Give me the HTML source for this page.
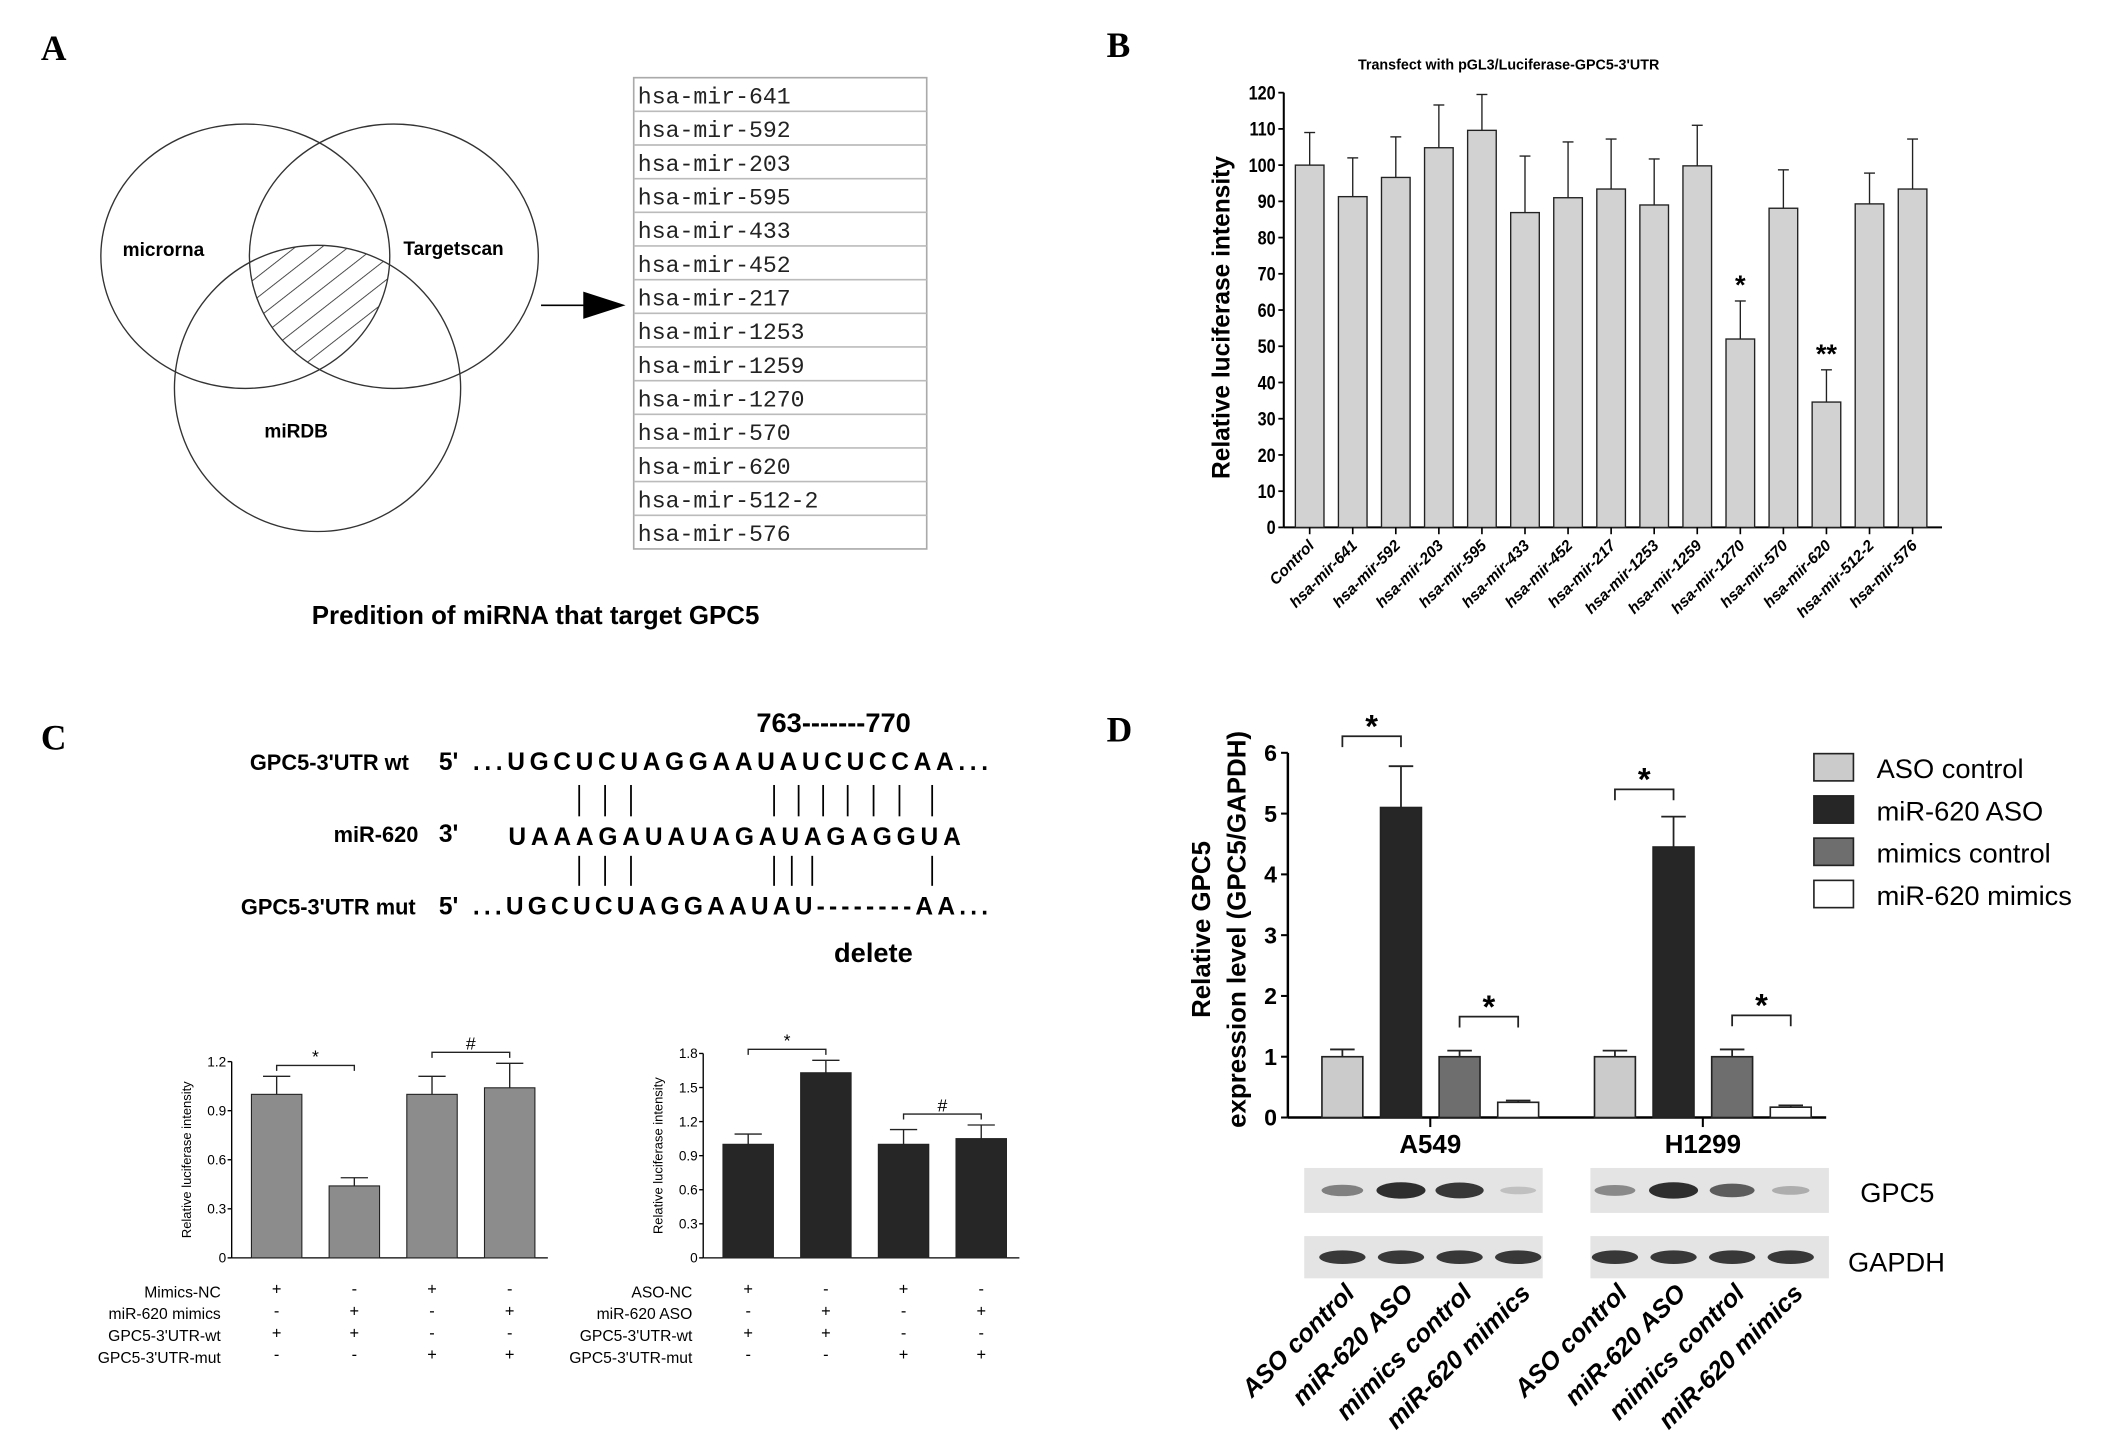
<!DOCTYPE html>
<html><head><meta charset="utf-8">
<style>
html,body{margin:0;padding:0;background:#fff;}
svg{display:block;}
text{font-family:"Liberation Sans",Arial,sans-serif;}
.serif{font-family:"Liberation Serif",serif;font-weight:bold;}
.mono{font-family:"Liberation Mono",monospace;}
</style></head>
<body>
<svg id="fig" width="2126" height="1433" viewBox="0 0 1560 1051.5" xmlns="http://www.w3.org/2000/svg">
<defs>
  <clipPath id="c1"><ellipse cx="180" cy="188" rx="106" ry="97"/></clipPath>
  <clipPath id="c2"><ellipse cx="289" cy="188" rx="106" ry="97"/></clipPath>
  <pattern id="hatch" width="12" height="12" patternUnits="userSpaceOnUse" patternTransform="rotate(-38)">
    <line x1="0" y1="0" x2="12" y2="0" stroke="#333" stroke-width="1.2"/>
  </pattern>
</defs>

<!-- Panel A -->
<g>
  <text class="serif" x="30" y="44" font-size="26">A</text>
  <g clip-path="url(#c1)"><g clip-path="url(#c2)">
    <ellipse cx="233" cy="285" rx="105" ry="105" fill="url(#hatch)"/>
  </g></g>
  <ellipse cx="180" cy="188" rx="106" ry="97" fill="none" stroke="#333" stroke-width="1"/>
  <ellipse cx="289" cy="188" rx="106" ry="97" fill="none" stroke="#333" stroke-width="1"/>
  <ellipse cx="233" cy="285" rx="105" ry="105" fill="none" stroke="#333" stroke-width="1"/>
  <text x="90" y="188" font-size="14" font-weight="bold">microrna</text>
  <text x="296" y="187" font-size="14" font-weight="bold">Targetscan</text>
  <text x="194" y="321" font-size="14" font-weight="bold">miRDB</text>
  <line x1="397" y1="224" x2="430" y2="224" stroke="#000" stroke-width="1.2"/>
  <polygon points="428,214 459,224 428,234" fill="#000"/>
  <g id="mirtable"></g>
  <text x="393" y="458" font-size="19" font-weight="bold" text-anchor="middle">Predition of miRNA that target GPC5</text>
</g>

<!-- Panel B -->
<g id="panelB">
  <text class="serif" x="812" y="42" font-size="26">B</text>
  <text x="1107" y="51" font-size="10.5" font-weight="bold" text-anchor="middle">Transfect with pGL3/Luciferase-GPC5-3'UTR</text>
  <text transform="translate(902,233) rotate(-90)" font-size="18" font-weight="bold" text-anchor="middle">Relative luciferase intensity</text>
</g>

<!-- Panel C -->
<g id="panelC">
  <text class="serif" x="30" y="550" font-size="26">C</text>
  <g font-weight="bold" font-size="18">
    <text x="555" y="537" font-size="20">763-------770</text>
    <text x="300" y="565" text-anchor="end" font-size="16">GPC5-3'UTR wt</text>
    <text x="322" y="565">5'</text>
    <text x="347" y="565" textLength="378">...UGCUCUAGGAAUAUCUCCAA...</text>
    <text x="307" y="618" text-anchor="end" font-size="16">miR-620</text>
    <text x="322" y="618">3'</text>
    <text x="373" y="620" textLength="332">UAAAGAUAUAGAUAGAGGUA</text>
    <text x="305" y="671" text-anchor="end" font-size="16">GPC5-3'UTR mut</text>
    <text x="322" y="671">5'</text>
    <text x="347" y="671" textLength="378">...UGCUCUAGGAAUAU--------AA...</text>
    <text x="612" y="706" font-size="20">delete</text>
  </g>
  <g id="pairlines" stroke="#000" stroke-width="1.3"></g>
</g>

<!-- Panel D -->
<g id="panelD">
  <text class="serif" x="812" y="544" font-size="26">D</text>
  <text transform="translate(888,682) rotate(-90)" font-size="19" font-weight="bold" text-anchor="middle">Relative GPC5</text>
  <text transform="translate(914,682) rotate(-90)" font-size="19" font-weight="bold" text-anchor="middle">expression level (GPC5/GAPDH)</text>
</g>

<script>
const NS='http://www.w3.org/2000/svg';
function mk(tag,attrs,parent,txt){const e=document.createElementNS(NS,tag);for(const k in attrs)e.setAttribute(k,attrs[k]);if(txt!==undefined)e.textContent=txt;parent.appendChild(e);return e;}

// ---- Panel A table ----
const mirList=['hsa-mir-641','hsa-mir-592','hsa-mir-203','hsa-mir-595','hsa-mir-433','hsa-mir-452','hsa-mir-217','hsa-mir-1253','hsa-mir-1259','hsa-mir-1270','hsa-mir-570','hsa-mir-620','hsa-mir-512-2','hsa-mir-576'];
(function(){
  const g=document.getElementById('mirtable');
  const x0=465,y0=57,w=215,rh=24.7;
  const box=mk('rect',{x:x0,y:y0,width:w,height:rh*mirList.length,fill:'#fff',stroke:'#aaa','stroke-width':1.2},g);
  
  
  mirList.forEach((m,i)=>{
    if(i>0){const l=mk('line',{x1:x0,x2:x0+w,y1:y0+i*rh,y2:y0+i*rh,stroke:'#bbb','stroke-width':1.2},g);
      
      }
    const t=mk('text',{x:x0+3,y:y0+i*rh+19,'font-size':17,'class':'mono',fill:'#222'},g,m);
    
    
  });
})();

// ---- Panel B ----
const bCategories=['Control','hsa-mir-641','hsa-mir-592','hsa-mir-203','hsa-mir-595','hsa-mir-433','hsa-mir-452','hsa-mir-217','hsa-mir-1253','hsa-mir-1259','hsa-mir-1270','hsa-mir-570','hsa-mir-620','hsa-mir-512-2','hsa-mir-576'];
const bValues=[100,91.3,96.6,104.8,109.6,86.9,91,93.4,89,99.8,52,88.1,34.6,89.3,93.4];
const bErrTops=[109,102,107.8,116.6,119.5,102.5,106.4,107.2,101.7,111,62.5,98.7,43.5,97.8,107.2];
const bTicks=[0,10,20,30,40,50,60,70,80,90,100,110,120];
const bStars=['','','','','','','','','','','*','','**','',''];
(function(){
  const g=document.getElementById('panelB');
  const y=v=>387-(v/120)*319;
  const x=i=>961+i*31.6;
  const bw=21;
  const ax=mk('line',{x1:942,x2:942,y1:y(120),y2:y(0),stroke:'#000','stroke-width':1.5},g);
  
  
  const xa=mk('line',{x1:942,x2:1425,y1:y(0),y2:y(0),stroke:'#000','stroke-width':1.5},g);
  
  
  bTicks.forEach(t=>{
    const tl=mk('line',{x1:938,x2:942,y1:y(t),y2:y(t),stroke:'#000','stroke-width':1.3},g);
    
    
    const tt=mk('text',{x:936,y:y(t)+5,'font-size':14,'font-weight':'bold','text-anchor':'end',transform:`translate(936,0) scale(0.85,1) translate(-936,0)`},g,String(t));
    
    
  });
  bCategories.forEach((c,i)=>{
    const cx=x(i);
    const el=mk('line',{x1:cx,x2:cx,y1:y(bErrTops[i]),y2:y(bValues[i]),stroke:'#222','stroke-width':1},g);
    
    
    const ec=mk('line',{x1:cx-4,x2:cx+4,y1:y(bErrTops[i]),y2:y(bErrTops[i]),stroke:'#222','stroke-width':1},g);
    
    
    const r=mk('rect',{x:cx-bw/2,y:y(bValues[i]),width:bw,height:y(0)-y(bValues[i]),fill:'#d2d2d2',stroke:'#222','stroke-width':1},g);
    
    
    const tk=mk('line',{x1:cx,x2:cx,y1:y(0),y2:y(0)+5,stroke:'#000','stroke-width':1.2},g);
    
    
    const lb=mk('text',{x:cx+4,y:y(0)+14,'font-size':11.5,'font-weight':'bold','font-style':'italic','text-anchor':'end',transform:`rotate(-45 ${cx+4} ${y(0)+14})`},g,c);
    
    
    if(bStars[i]){
      const s=mk('text',{x:cx,y:y(bErrTops[i])-5,'font-size':20,'font-weight':'bold','text-anchor':'middle'},g,bStars[i]);
      
      
    }
  });
})();

// ---- Panel C pairing lines ----
const pairTopX=[425,444,463,568,586,604,622,641,660,684];
const pairBotX=[425,444,463,568,581,596,684];
(function(){
  const g=document.getElementById('pairlines');
  pairTopX.forEach(px=>{const l=mk('line',{x1:px,x2:px,y1:576,y2:599},g);
    
    });
  pairBotX.forEach(px=>{const l=mk('line',{x1:px,x2:px,y1:628,y2:650},g);
    
    });
})();

// ---- Panel C small charts ----
const c1Values=[1,0.44,1,1.04];
const c1ErrTops=[1.11,0.49,1.11,1.19];
const c1Ticks=[0,0.3,0.6,0.9,1.2];
const c2Values=[1,1.63,1,1.05];
const c2ErrTops=[1.09,1.74,1.13,1.17];
const c2Ticks=[0,0.3,0.6,0.9,1.2,1.5,1.8];
const c1RowLabels=['Mimics-NC','miR-620 mimics',"GPC5-3'UTR-wt","GPC5-3'UTR-mut"];
const c2RowLabels=['ASO-NC','miR-620 ASO',"GPC5-3'UTR-wt","GPC5-3'UTR-mut"];
const c1Signs=[['+','-','+','-'],['-','+','-','+'],['+','+','-','-'],['-','-','+','+']];
const c2Signs=[['+','-','+','-'],['-','+','-','+'],['+','+','-','-'],['-','-','+','+']];
function smallChart(name,ax0,yMax,vals,errs,ticks,fill,rowLabels,signs,brackets){
  const g=document.getElementById('panelC');
  const y=v=>923-(v/yMax)*(yMax===1.2?144:150);
  const x=i=>ax0+33+i*57;
  const bw=37;
  const a=mk('line',{x1:ax0,x2:ax0,y1:y(yMax),y2:y(0),stroke:'#000','stroke-width':1},g);
  
  
  const b=mk('line',{x1:ax0,x2:ax0+232,y1:y(0),y2:y(0),stroke:'#000','stroke-width':1},g);
  
  
  ticks.forEach(t=>{
    const tl=mk('line',{x1:ax0-3,x2:ax0,y1:y(t),y2:y(t),stroke:'#000'},g);
    
    
    const tt=mk('text',{x:ax0-4,y:y(t)+3.5,'font-size':10,'text-anchor':'end'},g,String(t));
    
    
  });
  const yl=mk('text',{transform:`translate(${ax0-30},${y(yMax/2)}) rotate(-90)`,'font-size':9.5,'text-anchor':'middle'},g,'Relative luciferase intensity');
  
  
  vals.forEach((v,i)=>{
    const cx=x(i);
    const el=mk('line',{x1:cx,x2:cx,y1:y(errs[i]),y2:y(v),stroke:'#222'},g);
    
    
    const ec=mk('line',{x1:cx-10,x2:cx+10,y1:y(errs[i]),y2:y(errs[i]),stroke:'#222'},g);
    
    
    const r=mk('rect',{x:cx-bw/2,y:y(v),width:bw,height:y(0)-y(v),fill:fill,stroke:'#222','stroke-width':0.8},g);
    
    
    signs.forEach((row,ri)=>{
      const s=mk('text',{x:cx,y:950+ri*16,'font-size':12,'text-anchor':'middle'},g,row[i]);
      
      
    });
  });
  rowLabels.forEach((l,ri)=>{
    const t=mk('text',{x:ax0-8,y:952+ri*16,'font-size':11.5,'text-anchor':'end'},g,l);
    
    
  });
  brackets.forEach(bk=>{
    const [i1,i2,sym]=bk;
    const top=Math.max(errs[i1],errs[i2]);
    const by=y(top)-8;
    const p=mk('path',{d:`M${x(i1)} ${by+4}V${by}H${x(i2)}V${by+4}`,fill:'none',stroke:'#222'},g);
    
    
    const s=mk('text',{x:(x(i1)+x(i2))/2,y:by-2,'font-size':13,'text-anchor':'middle'},g,sym);
    
    
  });
}
smallChart('mimics-chart',170,1.2,c1Values,c1ErrTops,c1Ticks,'#8c8c8c',c1RowLabels,c1Signs,[[0,1,'*'],[2,3,'#']]);
smallChart('aso-chart',516,1.8,c2Values,c2ErrTops,c2Ticks,'#262626',c2RowLabels,c2Signs,[[0,1,'*'],[2,3,'#']]);

// ---- Panel D ----
const dGroups=['A549','H1299'];
const dSeries=['ASO control','miR-620 ASO','mimics control','miR-620 mimics'];
const dFills=['#cbcbcb','#262626','#6e6e6e','#ffffff'];
const dValues=[[1,5.1,1,0.25],[1,4.45,1,0.17]];
const dErrTops=[[1.12,5.78,1.1,0.28],[1.1,4.95,1.12,0.2]];
const dTicks=[0,1,2,3,4,5,6];
const gpc5Band=[[0.55,1,0.95,0.2],[0.5,1,0.75,0.3]];
(function(){
  const g=document.getElementById('panelD');
  const y=v=>820-v*44.6;
  const gx=[985,1185];
  const x=(gi,si)=>gx[gi]+si*43;
  const bw=30;
  const a=mk('line',{x1:945,x2:945,y1:y(6),y2:y(0),stroke:'#000','stroke-width':1.8},g);
  
  
  const b=mk('line',{x1:945,x2:1340,y1:y(0),y2:y(0),stroke:'#000','stroke-width':1.8},g);
  
  
  dTicks.forEach(t=>{
    const tl=mk('line',{x1:940,x2:945,y1:y(t),y2:y(t),stroke:'#000','stroke-width':1.5},g);
    
    
    const tt=mk('text',{x:937,y:y(t)+6,'font-size':17,'font-weight':'bold','text-anchor':'end'},g,String(t));
    
    
  });
  dGroups.forEach((grp,gi)=>{
    const mid=(x(gi,0)+x(gi,3))/2;
    const tk=mk('line',{x1:mid,x2:mid,y1:y(0),y2:y(0)+7,stroke:'#000','stroke-width':1.5},g);
    
    
    const gl=mk('text',{x:mid,y:846,'font-size':19,'font-weight':'bold','text-anchor':'middle'},g,grp);
    
    
    dSeries.forEach((s,si)=>{
      const cx=x(gi,si), v=dValues[gi][si], e=dErrTops[gi][si];
      const el=mk('line',{x1:cx,x2:cx,y1:y(e),y2:y(v),stroke:'#222','stroke-width':1.3},g);
      
      
      const ec=mk('line',{x1:cx-9,x2:cx+9,y1:y(e),y2:y(e),stroke:'#222','stroke-width':1.3},g);
      
      
      const r=mk('rect',{x:cx-bw/2,y:y(v),width:bw,height:y(0)-y(v),fill:dFills[si],stroke:'#222','stroke-width':1.2},g);
      
      
    });
    [[0,1],[2,3]].forEach(pr=>{
      const top=Math.max(dErrTops[gi][pr[0]],dErrTops[gi][pr[1]]);
      const by=y(top)-(pr[0]===0?(gi===0?22:20):25);
      const p=mk('path',{d:`M${x(gi,pr[0])} ${by+8}V${by}H${x(gi,pr[1])}V${by+8}`,fill:'none',stroke:'#222','stroke-width':1.3},g);
      
      
      const st=mk('text',{x:(x(gi,pr[0])+x(gi,pr[1]))/2,y:by+1,'font-size':24,'font-weight':'bold','text-anchor':'middle'},g,'*');
      
      
    });
    const bx=gi===0?957:1167;
    [[857,890,'gpc5'],[907,938,'gapdh']].forEach((row,ri)=>{
      const br=mk('rect',{x:bx,y:row[0],width:175,height:row[1]-row[0],fill:'#e4e4e4'},g);
      
      
      dSeries.forEach((s,si)=>{
        const cx=x(gi,si);
        const val=ri===0?gpc5Band[gi][si]:0.9;
        const band=mk('ellipse',{cx:cx,cy:(row[0]+row[1])/2,rx:ri===0?12+val*6:17,ry:ri===0?2+val*4:5,fill:'#1a1a1a','fill-opacity':ri===0?val*0.9:0.85},g);
        
        
      });
    });
    dSeries.forEach((s,si)=>{
      const cx=x(gi,si)+10;
      const lt=mk('text',{x:cx,y:950,'font-size':18.5,'font-weight':'bold','font-style':'italic','text-anchor':'end',transform:`rotate(-45 ${cx} 950)`},g,s);
      
      
    });
  });
  const gp=mk('text',{x:1365,y:882,'font-size':20},g,'GPC5');
  
  
  const ga=mk('text',{x:1356,y:933,'font-size':20},g,'GAPDH');
  
  
  dSeries.forEach((s,si)=>{
    const ly=553+si*31;
    const lr=mk('rect',{x:1331,y:ly,width:29,height:20,fill:dFills[si],stroke:'#222','stroke-width':1.2},g);
    
    
    const lt=mk('text',{x:1377,y:ly+18,'font-size':20},g,s);
    
    
  });
})();
</script>
</svg>
</body></html>
